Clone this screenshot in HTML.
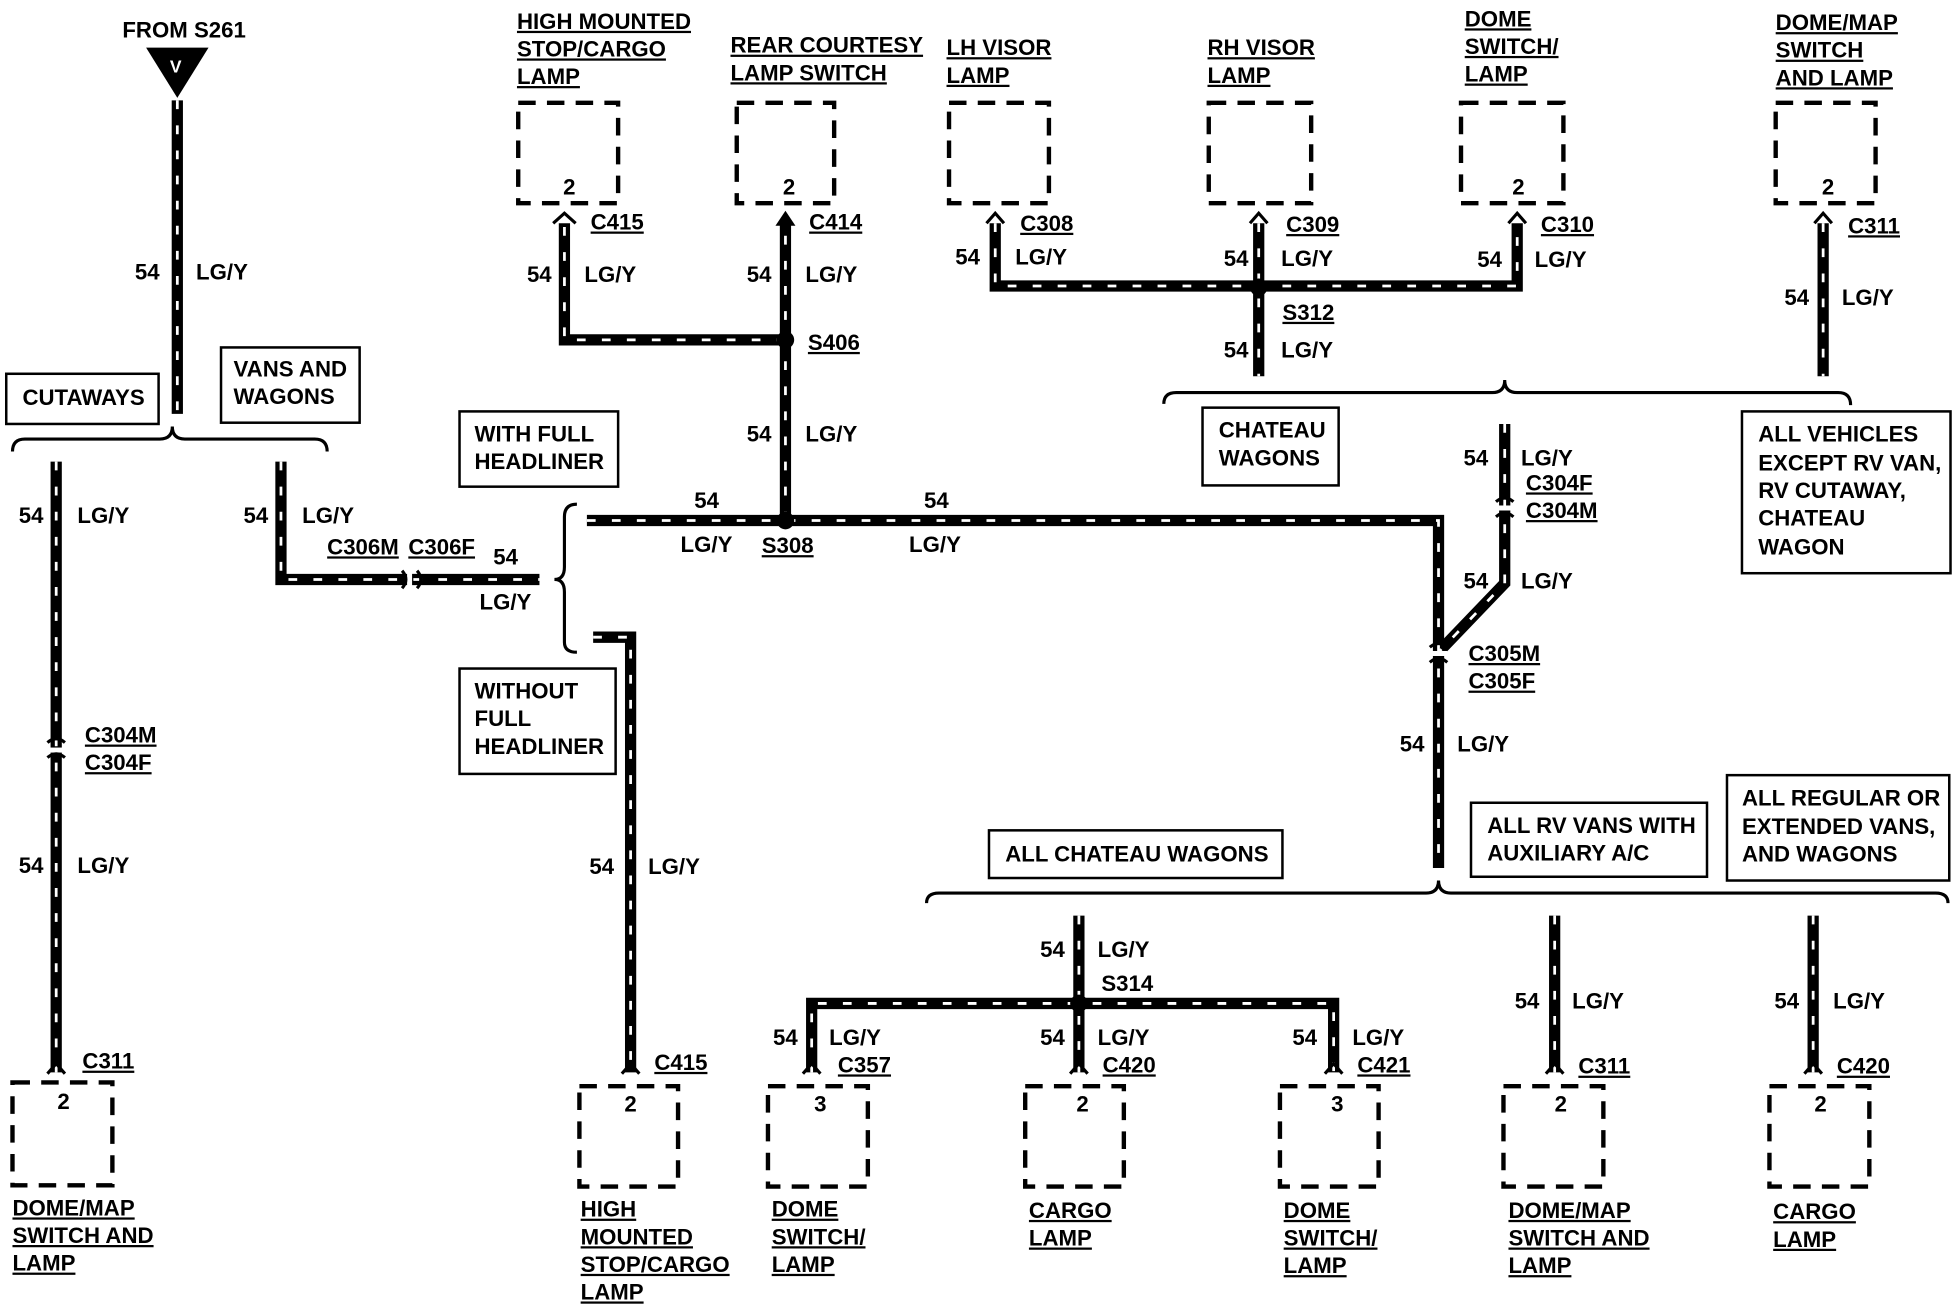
<!DOCTYPE html>
<html><head><meta charset="utf-8">
<style>
html,body{margin:0;padding:0;background:#fff;}
svg{display:block;}
text{font-family:"Liberation Sans",Arial,sans-serif;font-weight:bold;font-size:17.8px;fill:#000;}
.u{text-decoration:underline;}
.w{fill:none;stroke:#000;stroke-width:9;stroke-linejoin:miter;}
.d{fill:none;stroke:#fff;stroke-width:2.2;stroke-dasharray:7 13;}
.bx{fill:#fff;stroke:#000;stroke-width:2;}
.db{fill:none;stroke:#000;stroke-width:3.5;stroke-dasharray:14 9;}
.br{fill:none;stroke:#000;stroke-width:2.5;}
.sm{font-size:11px;}
</style></head><body>
<svg width="1958" height="1312" viewBox="0 0 1568 1046" preserveAspectRatio="none" xmlns="http://www.w3.org/2000/svg">
<g class="w">
<path d="M142 80V330"/>
<path d="M45 368V855"/>
<path d="M225 368V462H432"/>
<path d="M470 415H1152V692"/>
<path d="M629 415V178"/>
<path d="M629 271H452V178"/>
<path d="M475 508H505V855"/>
<path d="M797 178V228H1215V178"/>
<path d="M1008 178V300"/>
<path d="M1460 178V300"/>
<path d="M1205 338V465L1152 520"/>
<path d="M864 730V855"/>
<path d="M650 855V800H1068V855"/>
<path d="M1245 730V855"/>
<path d="M1452 730V855"/>
</g>
<g class="d">
<path d="M142 80V330"/>
<path d="M45 368V855"/>
<path d="M225 368V462H432"/>
<path d="M470 415H1152V692"/>
<path d="M629 415V178"/>
<path d="M629 271H452V178"/>
<path d="M475 508H505V855"/>
<path d="M797 178V228H1215V178"/>
<path d="M1008 178V300"/>
<path d="M1460 178V300"/>
<path d="M1205 338V465L1152 520"/>
<path d="M864 730V855"/>
<path d="M650 855V800H1068V855"/>
<path d="M1245 730V855"/>
<path d="M1452 730V855"/>
</g>
<g fill="#000"><circle cx="629" cy="415" r="7"/><circle cx="629" cy="271" r="7"/><circle cx="1008" cy="229" r="7"/><circle cx="864" cy="800" r="7"/></g>
<g fill="#fff"><rect x="38" y="596" width="14" height="4"/><rect x="1198" y="403" width="14" height="4"/><rect x="1145" y="519" width="14" height="4"/><rect x="326" y="455" width="4" height="14"/></g>
<g class="br" stroke-width="3">
<path d="M38 592Q45 586 52 592M38 604Q45 598 52 604"/>
<path d="M1198 400Q1205 394 1212 400M1198 412Q1205 406 1212 412"/>
<path d="M1145 516Q1152 510 1159 516M1145 528Q1152 522 1159 528"/>
<path d="M322 455Q328 462 322 469M334 455Q340 462 334 469"/>
<path d="M38 856L45 848L52 856M443 178L452 170L461 178M790 178L797 170L804 178M1001 178L1008 170L1015 178M1208 178L1215 170L1222 178M1453 178L1460 170L1467 178M498 856L505 848L512 856M643 856L650 848L657 856M857 856L864 848L871 856M1061 856L1068 848L1075 856M1238 856L1245 848L1252 856M1445 856L1452 848L1459 856"/>
</g>
<path d="M621 180L629 168L637 180Z" fill="#000"/>
<path d="M117 38H167L142 78Z" fill="#000"/>
<text x="136" y="58" style="fill:#fff;font-size:14px">V</text>
<text x="98" y="30">FROM S261</text>
<path class="br" d="M10 360Q10 350 20 350H128Q138 350 138 340Q138 350 148 350H252Q262 350 262 360"/>
<path class="br" d="M462 402Q452 402 452 412V452Q452 462 444 462Q452 462 452 472V512Q452 520 462 520"/>
<path class="br" d="M932 322Q932 313 942 313H1195Q1205 313 1205 303Q1205 313 1215 313H1472Q1482 313 1482 323"/>
<path class="br" d="M742 720Q742 712 752 712H1142Q1152 712 1152 702Q1152 712 1162 712H1550Q1560 712 1560 720"/>
<rect class="bx" x="5" y="298" width="122" height="40"/><text x="18" y="323">CUTAWAYS</text>
<rect class="bx" x="177" y="277" width="111" height="60"/><text x="187" y="300">VANS AND</text><text x="187" y="322">WAGONS</text>
<rect class="bx" x="368" y="328" width="127" height="60"/><text x="380" y="352">WITH FULL</text><text x="380" y="374">HEADLINER</text>
<rect class="bx" x="368" y="533" width="125" height="84"/><text x="380" y="557">WITHOUT</text><text x="380" y="579">FULL</text><text x="380" y="601">HEADLINER</text>
<rect class="bx" x="963" y="325" width="109" height="62"/><text x="976" y="349">CHATEAU</text><text x="976" y="371">WAGONS</text>
<rect class="bx" x="1395" y="328" width="167" height="129"/><text x="1408" y="352">ALL VEHICLES</text><text x="1408" y="375">EXCEPT RV VAN,</text><text x="1408" y="397">RV CUTAWAY,</text><text x="1408" y="419">CHATEAU</text><text x="1408" y="442">WAGON</text>
<rect class="bx" x="792" y="662" width="235" height="38"/><text x="805" y="687">ALL CHATEAU WAGONS</text>
<rect class="bx" x="1178" y="640" width="189" height="59"/><text x="1191" y="664">ALL RV VANS WITH</text><text x="1191" y="686">AUXILIARY A/C</text>
<rect class="bx" x="1383" y="618" width="178" height="84"/><text x="1395" y="642">ALL REGULAR OR</text><text x="1395" y="665">EXTENDED VANS,</text><text x="1395" y="687">AND WAGONS</text>
<g class="db">
<rect x="415" y="82" width="80" height="80"/><rect x="590" y="82" width="78" height="80"/><rect x="760" y="82" width="80" height="80"/><rect x="968" y="82" width="82" height="80"/><rect x="1170" y="82" width="82" height="80"/><rect x="1422" y="82" width="80" height="80"/>
<rect x="10" y="863" width="80" height="82"/><rect x="464" y="866" width="79" height="80"/><rect x="615" y="866" width="80" height="80"/><rect x="821" y="866" width="79" height="80"/><rect x="1025" y="866" width="79" height="80"/><rect x="1204" y="866" width="80" height="80"/><rect x="1417" y="866" width="80" height="80"/>
</g>
<g class="sm"><text x="451" y="155">2</text><text x="627" y="155">2</text><text x="1211" y="155">2</text><text x="1459" y="155">2</text>
<text x="46" y="884">2</text><text x="500" y="886">2</text><text x="652" y="886">3</text><text x="862" y="886">2</text><text x="1066" y="886">3</text><text x="1245" y="886">2</text><text x="1453" y="886">2</text></g>
<text class="u" x="414" y="23">HIGH MOUNTED</text><text class="u" x="414" y="45">STOP/CARGO</text><text class="u" x="414" y="67">LAMP</text>
<text class="u" x="585" y="42">REAR COURTESY</text><text class="u" x="585" y="64">LAMP SWITCH</text>
<text class="u" x="758" y="44">LH VISOR</text><text class="u" x="758" y="66">LAMP</text>
<text class="u" x="967" y="44">RH VISOR</text><text class="u" x="967" y="66">LAMP</text>
<text class="u" x="1173" y="21">DOME</text><text class="u" x="1173" y="43">SWITCH/</text><text class="u" x="1173" y="65">LAMP</text>
<text class="u" x="1422" y="24">DOME/MAP</text><text class="u" x="1422" y="46">SWITCH</text><text class="u" x="1422" y="68">AND LAMP</text>
<text class="u" x="10" y="969">DOME/MAP</text><text class="u" x="10" y="991">SWITCH AND</text><text class="u" x="10" y="1013">LAMP</text>
<text class="u" x="465" y="970">HIGH</text><text class="u" x="465" y="992">MOUNTED</text><text class="u" x="465" y="1014">STOP/CARGO</text><text class="u" x="465" y="1036">LAMP</text>
<text class="u" x="618" y="970">DOME</text><text class="u" x="618" y="992">SWITCH/</text><text class="u" x="618" y="1014">LAMP</text>
<text class="u" x="824" y="971">CARGO</text><text class="u" x="824" y="993">LAMP</text>
<text class="u" x="1028" y="971">DOME</text><text class="u" x="1028" y="993">SWITCH/</text><text class="u" x="1028" y="1015">LAMP</text>
<text class="u" x="1208" y="971">DOME/MAP</text><text class="u" x="1208" y="993">SWITCH AND</text><text class="u" x="1208" y="1015">LAMP</text>
<text class="u" x="1420" y="972">CARGO</text><text class="u" x="1420" y="994">LAMP</text>
<g class="u">
<text x="473" y="183">C415</text><text x="648" y="183">C414</text><text x="817" y="184">C308</text><text x="1030" y="185">C309</text><text x="1234" y="185">C310</text><text x="1480" y="186">C311</text>
<text x="1027" y="255">S312</text><text x="647" y="279">S406</text><text x="610" y="441">S308</text>
<text x="68" y="592">C304M</text><text x="68" y="614">C304F</text>
<text x="262" y="442">C306M</text><text x="327" y="442">C306F</text>
<text x="1222" y="391">C304F</text><text x="1222" y="413">C304M</text>
<text x="1176" y="527">C305M</text><text x="1176" y="549">C305F</text>
<text x="66" y="852">C311</text><text x="524" y="853">C415</text><text x="671" y="855">C357</text><text x="883" y="855">C420</text><text x="1087" y="855">C421</text><text x="1264" y="856">C311</text><text x="1471" y="856">C420</text>
</g>
<text x="882" y="790">S314</text>
<text x="108" y="223">54</text><text x="157" y="223">LG/Y</text>
<text x="15" y="417">54</text><text x="62" y="417">LG/Y</text>
<text x="195" y="417">54</text><text x="242" y="417">LG/Y</text>
<text x="15" y="696">54</text><text x="62" y="696">LG/Y</text>
<text x="395" y="450">54</text><text x="384" y="486">LG/Y</text>
<text x="422" y="225">54</text><text x="468" y="225">LG/Y</text>
<text x="598" y="225">54</text><text x="645" y="225">LG/Y</text>
<text x="598" y="352">54</text><text x="645" y="352">LG/Y</text>
<text x="556" y="405">54</text><text x="545" y="440">LG/Y</text>
<text x="740" y="405">54</text><text x="728" y="440">LG/Y</text>
<text x="472" y="697">54</text><text x="519" y="697">LG/Y</text>
<text x="765" y="211">54</text><text x="813" y="211">LG/Y</text>
<text x="980" y="212">54</text><text x="1026" y="212">LG/Y</text>
<text x="1183" y="213">54</text><text x="1229" y="213">LG/Y</text>
<text x="980" y="285">54</text><text x="1026" y="285">LG/Y</text>
<text x="1429" y="243">54</text><text x="1475" y="243">LG/Y</text>
<text x="1172" y="371">54</text><text x="1218" y="371">LG/Y</text>
<text x="1172" y="469">54</text><text x="1218" y="469">LG/Y</text>
<text x="1121" y="599">54</text><text x="1167" y="599">LG/Y</text>
<text x="833" y="763">54</text><text x="879" y="763">LG/Y</text>
<text x="619" y="833">54</text><text x="664" y="833">LG/Y</text>
<text x="833" y="833">54</text><text x="879" y="833">LG/Y</text>
<text x="1035" y="833">54</text><text x="1083" y="833">LG/Y</text>
<text x="1213" y="804">54</text><text x="1259" y="804">LG/Y</text>
<text x="1421" y="804">54</text><text x="1468" y="804">LG/Y</text>
</svg>
</body></html>
